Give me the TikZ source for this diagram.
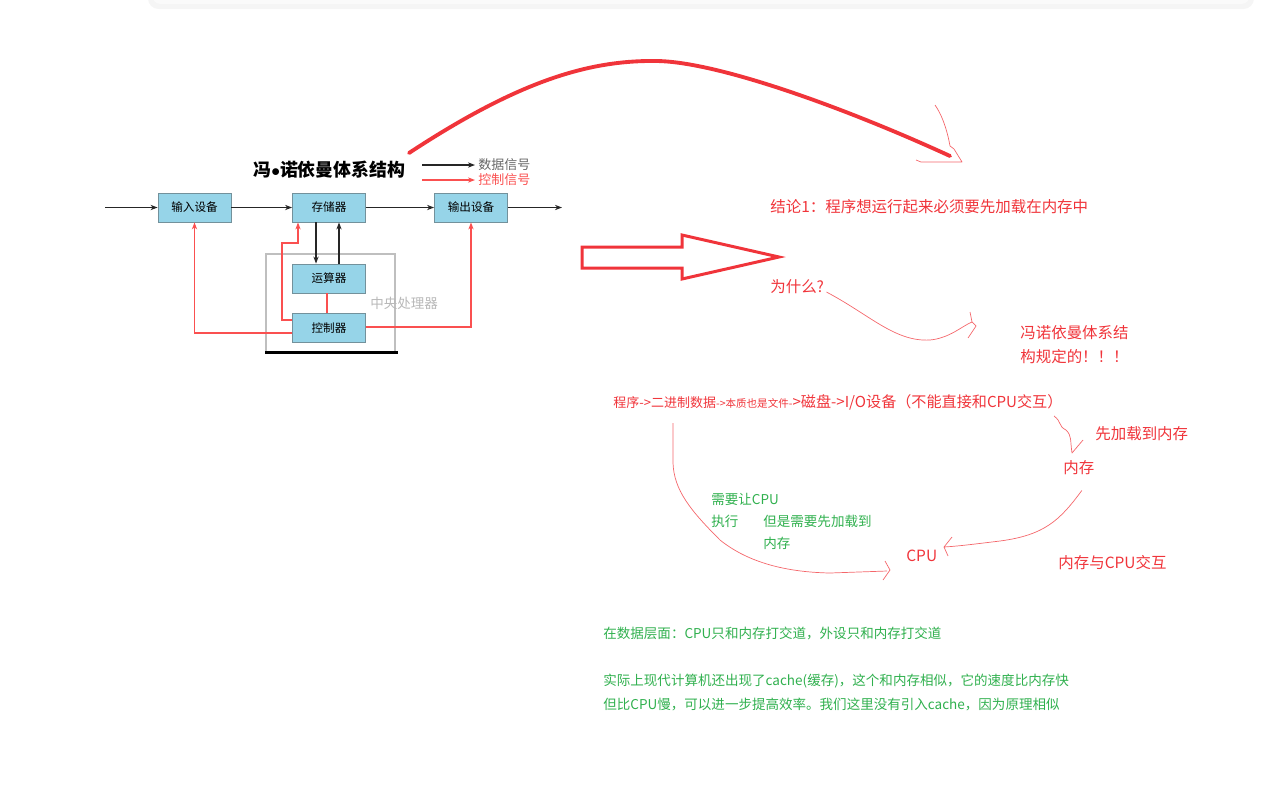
\documentclass[tikz,border=0pt]{standalone}
\usepackage{fontspec}
\setmainfont{Noto Sans CJK SC}
\usetikzlibrary{arrows.meta,positioning}
\definecolor{boxblue}{RGB}{150,212,232}
\definecolor{boxedge}{RGB}{115,145,155}
\definecolor{notered}{RGB}{240,52,58}
\definecolor{ctlred}{RGB}{250,80,80}
\definecolor{notegreen}{RGB}{48,176,78}
\def\fsz#1{\fontsize{#1pt}{#1pt}\selectfont}

\begin{document}
\begin{tikzpicture}[x=0.02cm,y=-0.02cm,box/.style={draw=boxedge,fill=boxblue,line width=.5pt,minimum width=1.46cm,minimum height=.58cm,inner sep=0pt,font=\fsz{6.6}},dat/.style={-{Stealth[length=4pt,width=3pt]},line width=.8pt,draw=black!85},ctlsig/.style={-{Stealth[length=4pt,width=3pt]},line width=.7pt,draw=ctlred},txt/.style={anchor=west,inner sep=0pt,text=notered,font=\fsz{8.8}},gtxt/.style={anchor=west,inner sep=0pt,text=notegreen,font=\fsz{7.7}},hand/.style={draw=notered!75,line width=.4pt,line join=round}]
\useasboundingbox (0,0) rectangle (1263,802);

\fill[black!4,rounded corners=6pt] (148,-12) rectangle (1254,9);
\fill[black!2,rounded corners=5pt] (152,-12) rectangle (1250,4);

\node[draw=black!25,line width=.6pt,minimum width=2.58cm,minimum height=1.96cm,inner sep=0pt] (cpu) at (330.5,303) {};
\draw[line width=1.6pt] (cpu.south west) -- ([xshift=.04cm]cpu.south east);
\node[anchor=west,inner sep=0pt,font=\fsz{7.7},text=black!28] (cpulbl) at (370,303) {中央处理器};

\node[box] (inp) at (194.5,207.5) {输入设备};
\node[box] (mem) at (329,207.5) {存储器};
\node[box] (outp) at (471,207.5) {输出设备};
\node[box] (alu) at (329,278.5) {运算器};
\node[box] (ctl) at (329,328) {控制器};

\coordinate (in0) at (105,207.5);
\coordinate (out0) at (562,207.5);
\draw[dat] (in0) -- (inp);
\draw[dat] (inp) -- (mem);
\draw[dat] (mem) -- (outp);
\draw[dat] (outp) -- (out0);
\draw[dat] ([xshift=-.26cm]mem.south) -- ([xshift=-.26cm]alu.north);
\draw[dat] ([xshift=.2cm]alu.north) -- ([xshift=.2cm]mem.south);
\draw[draw=ctlred,line width=.7pt] ([xshift=-.04cm]ctl.north) -- ([xshift=-.04cm]alu.south);
\draw[ctlsig] ([yshift=.16cm]ctl.west) -| (282,243) -| ([xshift=-.62cm]mem.south);
\draw[ctlsig] ([yshift=-.1cm]ctl.west) -| (inp.south);
\draw[ctlsig] ([yshift=.02cm]ctl.east) -| (outp.south);

\node[anchor=west,inner sep=0pt,font=\fsz{10.2}\bfseries] (ttl) at (253,170) {冯$\bullet$诺依曼体系结构};
\node[anchor=west,inner sep=0pt,font=\fsz{7.4},text=black!60] (lgdat) at (478,165) {数据信号};
\node[anchor=west,inner sep=0pt,font=\fsz{7.4},text=ctlred] (lgctl) at (478,180) {控制信号};
\coordinate (lgdat0) at (422,165);
\coordinate (lgctl0) at (422,180);
\draw[dat] (lgdat0) -- ([xshift=-.06cm]lgdat.west);
\draw[ctlsig] (lgctl0) -- ([xshift=-.06cm]lgctl.west);

\coordinate (arcA) at (409,153);
\coordinate (arcB) at (950,156);
\draw[draw=notered,line width=2.2pt,line cap=round] (arcA) .. controls (520,80) and (590,60) .. (657,61) .. controls (720,62) and (850,110) .. (arcB);
\draw[hand] (935,105) .. controls (944,118) and (948,135) .. (950,146) -- (954,149) -- (962,162) -- (921,162) -- (916,160);

\draw[draw=notered,line width=1.7pt,line join=miter] (582,247) -- (682,247) -- (682,235) -- (779,257) -- (682,279) -- (682,268) -- (582,268) -- cycle;

\node[txt] (concl) at (770,207) {结论1：程序想运行起来必须要先加载在内存中};
\node[txt] (why) at (770,287) {为什么?};
\node[txt] (vn1) at (1020,333) {冯诺依曼体系结};
\node[txt] (vn2) at (1020,357) {构规定的！！！};
\node[txt] (io) at (613,402) {{\fsz{7.4}程序->二进制数据}{\fsz{6}->本质也是文件-}{\fsz{8.6}>磁盘->I/O设备（不能直接和CPU交互）}};
\node[txt] (load) at (1095,434) {先加载到内存};
\node[txt] (ram) at (1063,468) {内存};
\node[txt] (cpuT) at (906,556) {CPU};
\node[txt] (inter) at (1058,563) {内存与CPU交互};

\node[gtxt] (need1) at (711,499) {需要让CPU};
\node[gtxt] (need2) at (711,521) {执行};
\node[gtxt] (but1) at (763,521) {但是需要先加载到};
\node[gtxt] (but2) at (763,543) {内存};
\node[gtxt] (fact) at (603,633) {在数据层面：CPU只和内存打交道，外设只和内存打交道};
\node[gtxt] (cache1) at (603,681) {实际上现代计算机还出现了cache(缓存)，这个和内存相似，它的速度比内存快};
\node[gtxt] (cache2) at (603,704) {但比CPU慢，可以进一步提高效率。我们这里没有引入cache，因为原理相似};

\coordinate (whyEnd) at (972,322);
\coordinate (ramIn) at (1072,453);
\coordinate (cpuR) at (944,547);
\coordinate (cpuL) at (890,570);
\draw[hand] ([xshift=.04cm,yshift=-.1cm]why.east) .. controls (870,315) and (895,342) .. (930,340) .. controls (950,338) and (962,326) .. (whyEnd) -- (976,326) -- (968,338) (whyEnd) -- (970,312);
\draw[hand] (1054,416) .. controls (1062,422) and (1058,426) .. (1066,430) .. controls (1072,436) and (1070,440) .. (ramIn) -- (1083,440);
\draw[hand] ([xshift=.06cm,yshift=-.3cm]ram.south) .. controls (1060,520) and (1045,535) .. (1000,541) .. controls (975,544) and (960,546) .. (cpuR) (952,537) -- (cpuR) -- (948,556);
\draw[hand] (673,423) -- (673,463) .. controls (674,490) and (690,510) .. (720,540) .. controls (745,560) and (780,572) .. (830,573) -- (887,571) (885,561) -- (cpuL) -- (883,580);
\end{tikzpicture}
\end{document}
